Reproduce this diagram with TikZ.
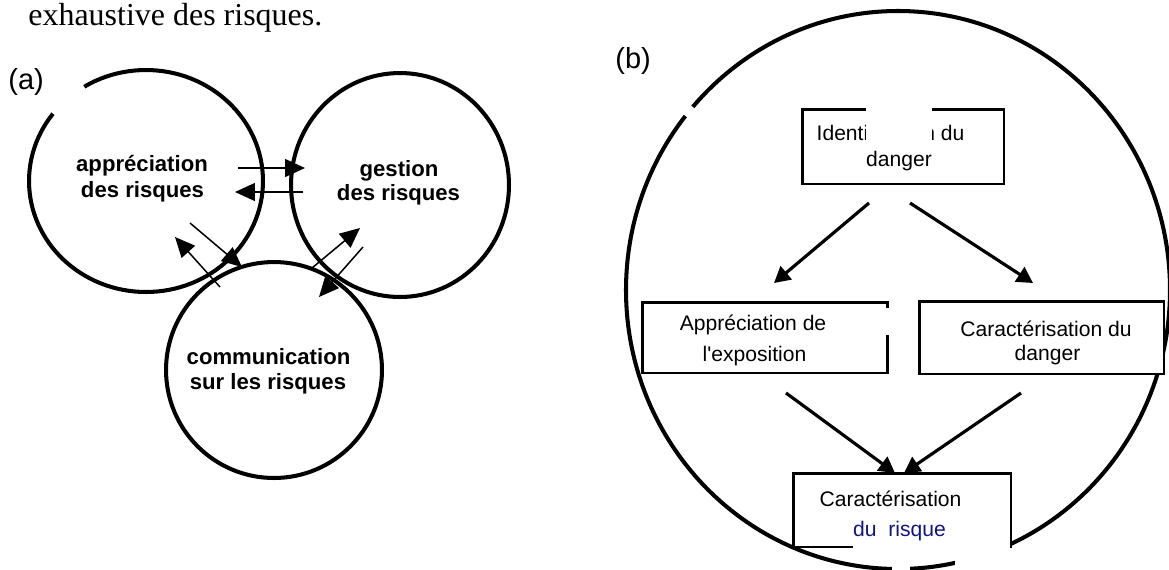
\documentclass[tikz,border=0pt]{standalone}
\usepackage{fontspec}
\setmainfont{Liberation Sans}
\newfontfamily\bookfont{Liberation Serif}
\usetikzlibrary{arrows.meta,shapes.geometric,calc}
\definecolor{inkblue}{RGB}{20,20,128}

\begin{document}
\begin{tikzpicture}
            [x=0.02cm, y=-0.02cm,
             ring/.style={shape=ellipse, draw=black, line width=2.3pt, inner sep=0pt},
             hoop/.style={draw=black, line width=2.3pt},
             stepbox/.style={shape=rectangle, draw=black, fill=white, line width=1.7pt, inner sep=0pt, outer sep=0pt},
             tag/.style={font=\fontsize{12.6}{15}\selectfont\bfseries, inner sep=0pt, anchor=base},
             lbl/.style={font=\fontsize{12}{14}\selectfont, inner sep=0pt, anchor=base},
             part/.style={font=\fontsize{16.5}{20}\selectfont, inner sep=0pt, anchor=base west},
             link/.style={-{Triangle[length=4mm, width=3.6mm]}, line width=0.85pt},
             flow/.style={-{Triangle[length=3.2mm, width=3.4mm]}, line width=1.8pt},
             blank/.style={fill=white, draw=none},
             gap/.style={draw=white, line width=4.6pt}]
            \useasboundingbox (0,0) rectangle (1169,569);

            \node[font=\bookfont\fontsize{18.2}{22}\selectfont, inner sep=0pt, anchor=base west] (intro) at (28,25) {exhaustive des risques.};

            % (a)
            \node[part] (parta) at (8,89) {(a)};
            \node[ring, minimum width=4.68cm, minimum height=4.44cm] (apr) at (146,181) {};
            \node[ring, minimum width=4.36cm, minimum height=4.48cm] (ges) at (400,185) {};
            \node[ring, minimum width=4.32cm, minimum height=4.32cm] (com) at (274,370) {};
            \draw[gap] (146,181) ++(217.4:117 and 111) arc [start angle=217.4, end angle=238.1, x radius=117, y radius=111];

            \node[tag] (apr1) at (142,171) {appréciation};
            \node[tag] (apr2) at (142.5,197) {des risques};
            \node[tag] (ges1) at (399,176) {gestion};
            \node[tag] (ges2) at (398.5,200) {des risques};
            \node[tag] (com1) at (268.5,364) {communication};
            \node[tag] (com2) at (268,389) {sur les risques};

            \draw[link] ($(apr.center)+(92,-13)$) -- ($(ges.center)+(-95,-17)$);
            \draw[link] ($(ges.center)+(-97,7)$) -- ($(apr.center)+(89,11)$);
            \draw[link] ($(apr.center)+(44,42)$) -- ($(com.center)+(-32,-103)$);
            \draw[link] ($(com.center)+(-54,-83)$) -- ($(apr.center)+(29,56)$);
            \draw[link] ($(com.center)+(38,-102)$) -- ($(ges.center)+(-40,43)$);
            \draw[link] ($(ges.center)+(-37,62)$) -- ($(com.center)+(45,-73)$);

            % (b)
            \node[part] (partb) at (615,68) {(b)};
            \draw[hoop] (898,290) ellipse [x radius=272, y radius=279];
            \draw[gap] (898,290) ++(218.6:272 and 279) arc [start angle=218.6, end angle=221, x radius=272, y radius=279];

            \node[stepbox, minimum width=4.04cm, minimum height=1.5cm] (ident) at (903,146.5) {};
            \node[stepbox, minimum width=4.92cm, minimum height=1.42cm] (expo) at (765,337.5) {};
            \node[stepbox, minimum width=4.9cm, minimum height=1.46cm] (dang) at (1041.5,337.5) {};
            \node[stepbox, minimum width=4.36cm, minimum height=1.48cm] (risq) at (902,510) {};

            \node[lbl] (ident1) at (890.5,140) {Identification du};
            \node[lbl] (ident2) at (899,166) {danger};
            \node[lbl] (expo1) at (753,330) {Appréciation de};
            \node[lbl] (expo2) at (754.5,361) {l\textquotesingle exposition};
            \node[lbl] (dang1) at (1046,336.5) {Caractérisation du};
            \node[lbl] (dang2) at (1047.5,360) {danger};
            \node[lbl] (risq1) at (890.5,506) {Caractérisation};
            \node[lbl, text=inkblue] (risq2) at (899.5,536) {du~~risque};

            \draw[flow] ($(ident.south)+(-34,19)$) -- ($(expo.north)+(9,-19)$);
            \draw[flow] ($(ident.south)+(7,19)$) -- ($(dang.north)+(-8.5,-18)$);
            \draw[flow] ($(expo.south)+(21,20)$) -- ($(risq.north)+(-7,0)$);
            \draw[flow] ($(dang.south)+(-20.5,19)$) -- ($(risq.north)+(2,0)$);

            \fill[blank] (866,106) rectangle (932,148);
            \fill[blank] (885,308) rectangle (891,335);
            \fill[blank] (853,543) rectangle (1009.5,551.5);
            \fill[blank] (955,549) rectangle (1009.5,570);
            \fill[blank] (892,556) rectangle (910,570);
        \end{tikzpicture}
\end{document}
